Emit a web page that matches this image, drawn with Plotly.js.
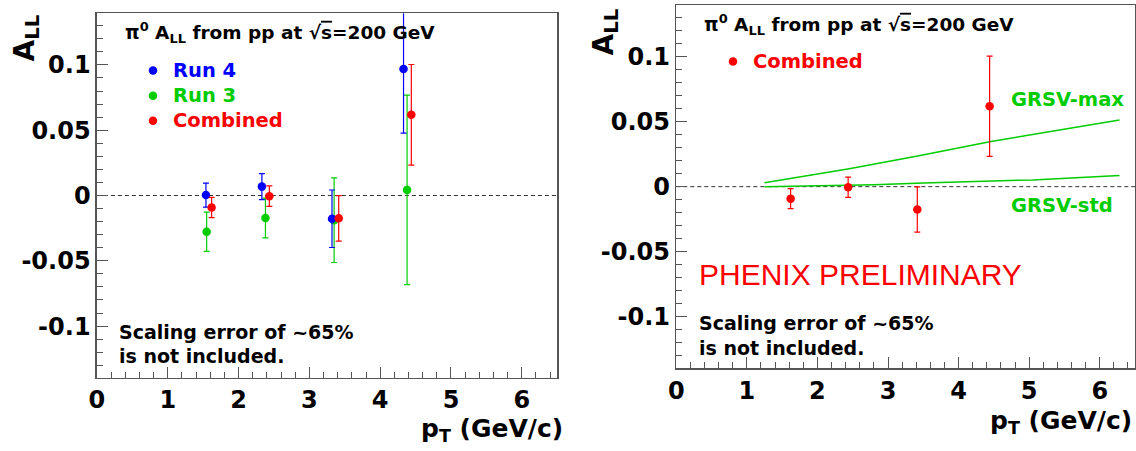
<!DOCTYPE html>
<html>
<head>
<meta charset="utf-8">
<script src="https://cdn.plot.ly/plotly-3.0.1.min.js"></script>
<style>
  html, body { margin: 0; padding: 0; background: #ffffff; }
  #chart { width: 1136px; height: 451px; }
</style>
</head>
<body>
<div id="chart"></div>
<script>
// ---------------- data ----------------
const run4_pt  = [1.54, 2.33, 3.32, 4.33];
const run4_all = [0.0003, 0.0068, -0.0178, 0.0969];
const run4_err = [0.0092, 0.0100, 0.0220, 0.0492];

const run3_pt  = [1.55, 2.38, 3.35, 4.38];
const run3_all = [-0.0278, -0.0172, -0.0189, 0.0043];
const run3_err = [0.0150, 0.0152, 0.0324, 0.0725];

const comb_pt  = [1.62, 2.435, 3.415, 4.44];
const comb_all = [-0.0092, -0.0005, -0.0175, 0.0618];
const comb_err = [0.0077, 0.0078, 0.0174, 0.0385];

const grsvmax_pt  = [1.25, 2.43, 3.42, 4.44, 6.28];
const grsvmax_all = [0.0030, 0.0135, 0.0235, 0.0345, 0.0511];

const grsvstd_pt  = [1.25, 1.9, 2.8, 3.5, 4.05, 5.05, 6.28];
const grsvstd_all = [0.0000, 0.0005, 0.0015, 0.0028, 0.0036, 0.0052, 0.0086];

const xTickVals = [0, 1, 2, 3, 4, 5, 6];
const xTickText = ['0', '1', '2', '3', '4', '5', '6'];
const yTickVals = [-0.1, -0.05, 0, 0.05, 0.1];
const yTickText = ['-0.1', '-0.05', '0', '0.05', '0.1'];

// ---------------- helpers ----------------
const W = 1136, H = 451;
const px = v => v / W;
const py = v => 1 - v / H;

const BLUE = '#0000ff', GREEN = '#00cc00', RED = '#ff0000';
const FRAME = '#555555';
const BOLD = 'DejaVu Sans';

function axisX(domain, anchor) {
  return {
    domain: domain, anchor: anchor, range: [0, 6.5],
    showline: true, linecolor: FRAME, linewidth: 1.5, mirror: true,
    showgrid: false, zeroline: false,
    ticks: 'inside', ticklen: 11, tickwidth: 1, tickcolor: FRAME,
    tickmode: 'array', tickvals: xTickVals, ticktext: xTickText,
    tickfont: {family: BOLD, size: 24, weight: 'bold', color: '#000'},
    minor: {ticks: 'inside', ticklen: 6, tickwidth: 1, tickcolor: FRAME,
            tickmode: 'linear', tick0: 0, dtick: 0.2, showgrid: false}
  };
}
function axisY(domain, anchor) {
  return {
    domain: domain, anchor: anchor, range: [-0.1395, 0.1395],
    showline: true, linecolor: FRAME, linewidth: 1.5, mirror: true,
    showgrid: false, zeroline: false,
    ticks: 'inside', ticklen: 11, tickwidth: 1, tickcolor: FRAME,
    tickmode: 'array', tickvals: yTickVals, ticktext: yTickText,
    tickfont: {family: BOLD, size: 24, weight: 'bold', color: '#000'},
    minor: {ticks: 'inside', ticklen: 6, tickwidth: 1, tickcolor: FRAME,
            tickmode: 'linear', tick0: 0, dtick: 0.01, showgrid: false}
  };
}

function pts(name, x, y, err, color, xa, ya, legend, rank) {
  return {
    type: 'scatter', mode: 'markers', name: name,
    x: x, y: y, xaxis: xa, yaxis: ya, legend: legend, legendrank: rank,
    marker: {color: color, size: 8.5},
    error_y: {type: 'data', array: err, visible: true, color: color, thickness: 1.2, width: 3},
    hoverinfo: 'skip'
  };
}

function lab(text, color) {
  return '<span style="color:' + color + ';font-size:19.5px">' + text + '</span>';
}

const traces = [
  pts(lab('Run 3', GREEN), run3_pt, run3_all, run3_err, GREEN, 'x', 'y', 'legend', 2),
  pts(lab('Run 4', BLUE), run4_pt, run4_all, run4_err, BLUE, 'x', 'y', 'legend', 1),
  pts(lab('Combined', RED), comb_pt, comb_all, comb_err, RED, 'x', 'y', 'legend', 3),
  {type: 'scatter', mode: 'lines', x: grsvmax_pt, y: grsvmax_all, xaxis: 'x2', yaxis: 'y2',
   line: {color: GREEN, width: 1.5}, showlegend: false, hoverinfo: 'skip'},
  {type: 'scatter', mode: 'lines', x: grsvstd_pt, y: grsvstd_all, xaxis: 'x2', yaxis: 'y2',
   line: {color: GREEN, width: 1.5}, showlegend: false, hoverinfo: 'skip'},
  pts(lab('Combined', RED), comb_pt, comb_all, comb_err, RED, 'x2', 'y2', 'legend2', 1)
];

const titleText = 'π<sup>0</sup> <b>A<sub>LL</sub> from pp at √<span style="text-decoration:overline">s</span>=200 GeV</b>';

function ann(text, x, y, opts) {
  return Object.assign({
    text: text, xref: 'paper', yref: 'paper', x: px(x), y: py(y),
    xanchor: 'left', yanchor: 'middle', showarrow: false,
    font: {family: BOLD, size: 19, weight: 'bold', color: '#000'}
  }, opts || {});
}

const annotations = [
  ann(titleText, 123, 33, {font: {family: BOLD, size: 18.5, weight: 'bold', color: '#000'}}),
  ann(titleText, 702, 25, {font: {family: BOLD, size: 18.5, weight: 'bold', color: '#000'}}),
  ann('Scaling error of ~65%', 117, 332),
  ann('is not included.', 117, 356),
  ann('Scaling error of ~65%', 697, 323),
  ann('is not included.', 697, 348),
  ann('PHENIX PRELIMINARY', 697, 274,
      {font: {family: 'Liberation Sans', size: 30, color: RED}}),
  ann('GRSV-max', 1009, 100, {font: {family: BOLD, size: 19.5, weight: 'bold', color: GREEN}}),
  ann('GRSV-std', 1009, 205, {font: {family: BOLD, size: 19.5, weight: 'bold', color: GREEN}}),
  ann('A<sub>LL</sub>', 26, 13, {xanchor: 'center', yanchor: 'top', textangle: -90,
      font: {family: BOLD, size: 28, weight: 'bold', color: '#000'}}),
  ann('A<sub>LL</sub>', 605, 7, {xanchor: 'center', yanchor: 'top', textangle: -90,
      font: {family: BOLD, size: 28, weight: 'bold', color: '#000'}}),
  ann('p<sub>T</sub> (GeV/c)', 565, 430, {xanchor: 'right',
      font: {family: BOLD, size: 25, weight: 'bold', color: '#000'}}),
  ann('p<sub>T</sub> (GeV/c)', 1134, 422, {xanchor: 'right',
      font: {family: BOLD, size: 25, weight: 'bold', color: '#000'}})
];

const shapes = [
  {type: 'line', xref: 'x', yref: 'y', x0: 0, x1: 6.5, y0: 0, y1: 0, layer: 'below',
   line: {color: '#333', width: 1, dash: '4px,3px'}},
  {type: 'line', xref: 'x2', yref: 'y2', x0: 0, x1: 6.5, y0: 0, y1: 0, layer: 'below',
   line: {color: '#333', width: 1, dash: '4px,3px'}}
];

const legendFont = {family: BOLD, size: 17, weight: 'bold', color: '#000'};

const layout = {
  width: W, height: H,
  margin: {l: 0, r: 0, t: 0, b: 0},
  paper_bgcolor: '#ffffff', plot_bgcolor: '#ffffff',
  showlegend: true,
  xaxis: axisX([px(96.9), px(557.2)], 'y'),
  yaxis: axisY([py(377.7), py(13.3)], 'x'),
  xaxis2: axisX([px(676.3), px(1135)], 'y2'),
  yaxis2: axisY([py(368.3), py(5)], 'x2'),
  legend: {x: px(133), y: py(53), xanchor: 'left', yanchor: 'top',
           bgcolor: 'rgba(0,0,0,0)', borderwidth: 0, font: legendFont,
           tracegroupgap: 0, itemwidth: 30},
  legend2: {x: px(713), y: py(44), xanchor: 'left', yanchor: 'top',
            bgcolor: 'rgba(0,0,0,0)', borderwidth: 0, font: legendFont,
            itemwidth: 30},
  annotations: annotations,
  shapes: shapes,
  hovermode: false
};

Plotly.newPlot('chart', traces, layout, {staticPlot: true, displayModeBar: false});
</script>
</body>
</html>
